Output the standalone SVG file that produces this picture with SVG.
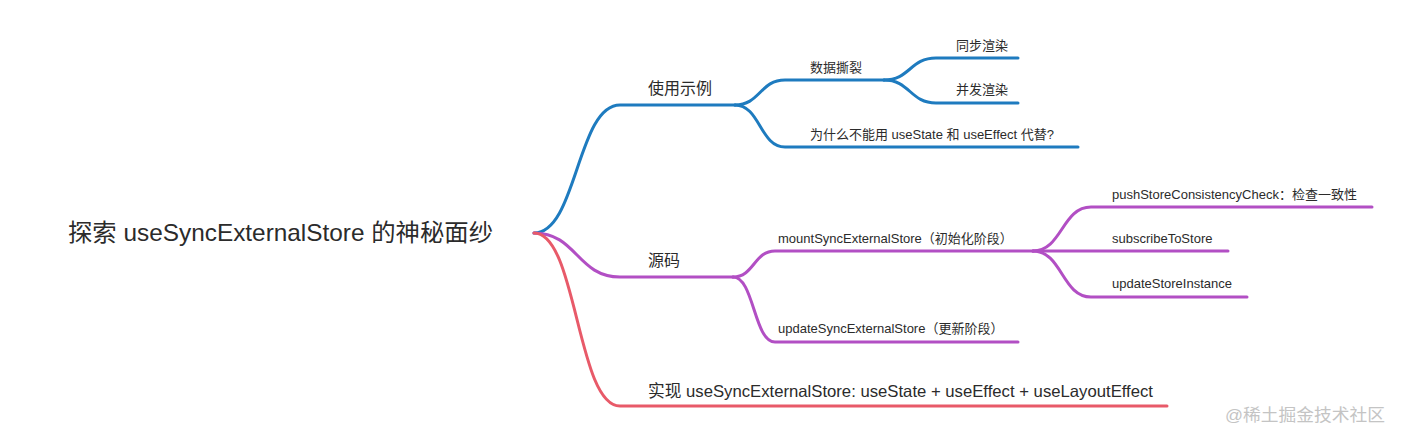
<svg xmlns="http://www.w3.org/2000/svg" width="1401" height="438" viewBox="0 0 1401 438">
<style>
text{font-family:"Liberation Sans","Noto Sans CJK SC",sans-serif;fill:#2b2b2b}
.l{fill:none;stroke-width:3;stroke-linecap:round}
.b{stroke:#1e7bbf}
.p{stroke:#b24fc4}
.r{stroke:#e85a69}
.t13{font-size:13px}
.t16{font-size:16px}
</style>
<rect width="1401" height="438" fill="#ffffff"/>
<g id="connectors">
<path class="l b" d="M534,233 C577,233 577,105 620,105 L735,105"/>
<path class="l b" d="M735,105 C760,105 760,80 785,80 L884,80"/>
<path class="l b" d="M884,80 C910,80 910,58 936,58 L1018,58"/>
<path class="l b" d="M884,80 C910,80 910,103 936,103 L1018,103"/>
<path class="l b" d="M735,105 C760,105 760,147 785,147 L1078,147"/>
<path class="l p" d="M534,233 C577,233 577,277 620,277 L733,277"/>
<path class="l p" d="M733,277 C754,277 754,251 775,251 L1033,251"/>
<path class="l p" d="M733,277 C754,277 754,342 775,342 L1018,342"/>
<path class="l p" d="M1033,251 C1062,251 1062,207 1091,207 L1372,207"/>
<path class="l p" d="M1033,251 L1228,251"/>
<path class="l p" d="M1033,251 C1062,251 1062,297 1091,297 L1247,297"/>
<path class="l r" d="M534,233 C577,233 577,406 620,406 L1167,406"/>
</g>
<g id="root"><text x="68" y="241" font-size="24" textLength="425" lengthAdjust="spacingAndGlyphs">探索 useSyncExternalStore 的神秘面纱</text></g>
<g id="n-usage"><text class="t16" x="648" y="94">使用示例</text></g>
<g id="n-tearing"><text class="t13" x="810" y="72">数据撕裂</text></g>
<g id="n-sync"><text class="t13" x="956" y="50">同步渲染</text></g>
<g id="n-concurrent"><text class="t13" x="956" y="94">并发渲染</text></g>
<g id="n-why"><text class="t13" x="810" y="139">为什么不能用 useState 和 useEffect 代替?</text></g>
<g id="n-source"><text class="t16" x="648" y="266">源码</text></g>
<g id="n-mount"><text class="t13" x="778" y="243">mountSyncExternalStore（初始化阶段）</text></g>
<g id="n-update"><text class="t13" x="778" y="333">updateSyncExternalStore（更新阶段）</text></g>
<g id="n-push"><text class="t13" x="1112" y="199">pushStoreConsistencyCheck：检查一致性</text></g>
<g id="n-subscribe"><text class="t13" x="1112" y="243">subscribeToStore</text></g>
<g id="n-instance"><text class="t13" x="1112" y="288">updateStoreInstance</text></g>
<g id="n-impl"><text x="648" y="397" font-size="16.5" textLength="505" lengthAdjust="spacingAndGlyphs">实现 useSyncExternalStore: useState + useEffect + useLayoutEffect</text></g>
<text x="1225" y="421" font-size="17" textLength="160" lengthAdjust="spacingAndGlyphs" style="fill:#c4c4c4">@稀土掘金技术社区</text>
</svg>
